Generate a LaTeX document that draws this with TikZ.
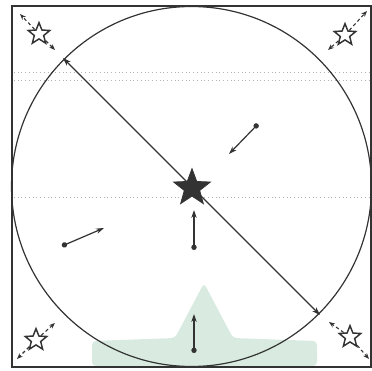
\documentclass[tikz,border=0pt]{standalone}
\usetikzlibrary{arrows.meta,shapes.geometric}
\definecolor{mint}{HTML}{D9EBE0}
\definecolor{ink}{HTML}{333333}
\begin{document}
\begin{tikzpicture}[x=0.75pt,y=-0.75pt,
  cornerstar/.style={star, star points=5, star point ratio=2.3, draw=ink, line width=1.1pt, minimum size=17pt, inner sep=0pt, fill=white},
  bigstar/.style={star, star points=5, star point ratio=2.4, draw=ink, fill=ink, line width=0.6pt, minimum size=29pt, inner sep=0pt},
  vec/.style={draw=ink, line width=0.9pt, {Circle[length=4pt]}-{Stealth[length=6pt,width=4pt]}},
  diam/.style={draw=ink, line width=1pt, {Stealth[length=6pt,width=4pt]}-{Stealth[length=6pt,width=4pt]}},
  dashline/.style={draw=ink, line width=0.8pt, dash pattern=on 2.5pt off 2pt, -{Stealth[length=4.5pt,width=3.5pt]}},
  faint/.style={draw=gray!60, line width=0.5pt, dash pattern=on 0.6pt off 2.2pt},
  frame/.style={draw=ink, line width=1.6pt},
  ring/.style={draw=ink, line width=0.9pt}]
\useasboundingbox (0,0) rectangle (372,371);
% green peak
\fill[mint, rounded corners=3pt] (92,341) -- (175,338) -- (204,283) -- (233,338) -- (317,341) -- (317,366) -- (92,366) -- cycle;
% faint dotted rows
\draw[faint] (14,72) -- (371,72);
\draw[faint] (14,80) -- (371,80);
\draw[faint] (14,197) -- (371,197);
% frame and circle
\draw[frame] (12,6) rectangle (371,367);
\draw[ring] (191.5,186.5) circle[radius=180];
% named coordinates
\coordinate (p1) at (63,58);
\coordinate (p4) at (320,315);
\coordinate (q1) at (55,50);
\coordinate (q2) at (328,50);
\coordinate (q3) at (55,323);
\coordinate (q4) at (329,322);
\coordinate (k1) at (20,14);
\coordinate (k2) at (367,11);
\coordinate (k3) at (17,359);
\coordinate (k4) at (369,359);
% diameter
\draw[diam] (p1) -- (p4);
% central star
\node[bigstar] (c) at (192,188) {};
% corner stars
\node[cornerstar] (s1) at (39,34) {};
\node[cornerstar] (s2) at (345,35) {};
\node[cornerstar] (s3) at (36,340) {};
\node[cornerstar] (s4) at (350,337) {};
% corner dashed arrows
\draw[dashline] (s1) -- (q1);
\draw[dashline] (s2) -- (q2);
\draw[dashline] (s3) -- (q3);
\draw[dashline] (s4) -- (q4);
\draw[dashline] (s1) -- (k1);
\draw[dashline] (s2) -- (k2);
\draw[dashline] (s3) -- (k3);
\draw[dashline] (s4) -- (k4);
% inner vectors
\coordinate (a1t) at (258,124);
\coordinate (a1h) at (229,154);
\coordinate (a2t) at (62,246);
\coordinate (a2h) at (104,228);
\coordinate (a3t) at (194,250);
\coordinate (a3h) at (194,210);
\coordinate (a4t) at (194,353);
\coordinate (a4h) at (194,314);
\draw[vec] (a1t) -- (a1h);
\draw[vec] (a2t) -- (a2h);
\draw[vec] (a3t) -- (a3h);
\draw[vec] (a4t) -- (a4h);
\end{tikzpicture}
\end{document}
